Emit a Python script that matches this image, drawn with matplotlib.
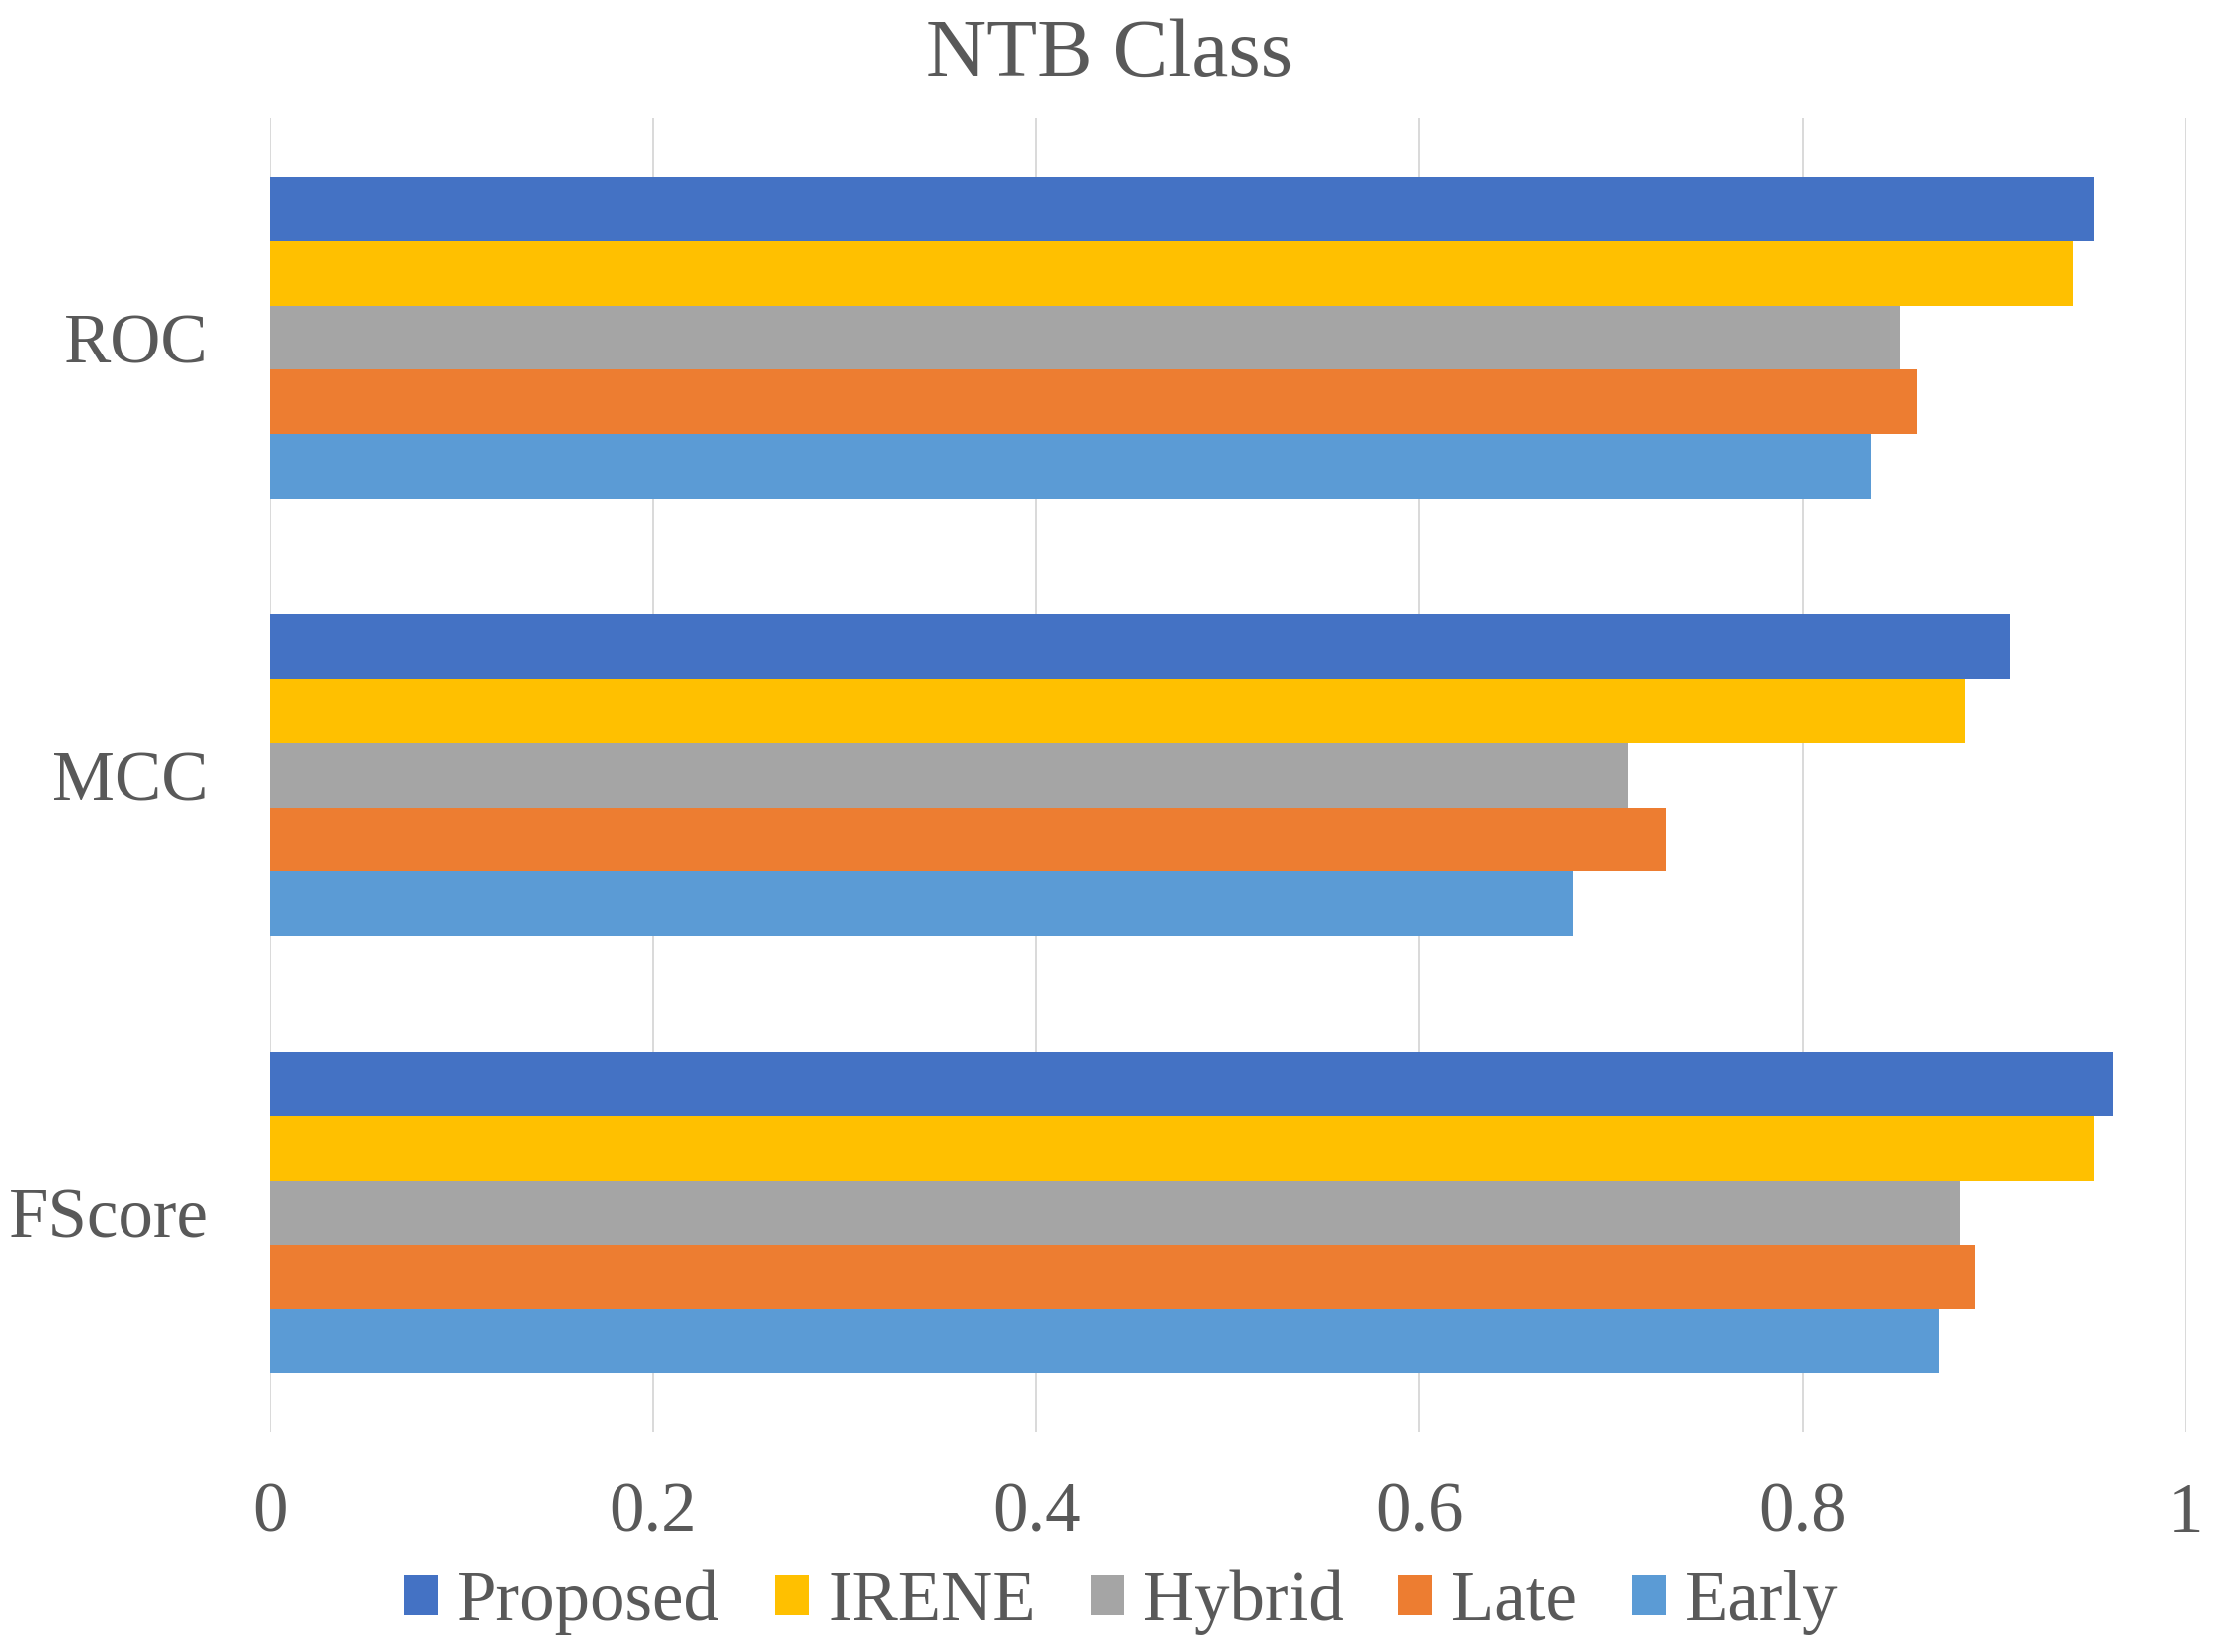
import numpy as np
import matplotlib
matplotlib.use("Agg")
import matplotlib.pyplot as plt

# categories from top to bottom
metrics = ["ROC", "MCC", "FScore"]
methods = ["Proposed", "IRENE", "Hybrid", "Late", "Early"]

proposed = [0.952, 0.908, 0.962]
irene = [0.941, 0.885, 0.952]
hybrid = [0.851, 0.709, 0.882]
late = [0.860, 0.729, 0.890]
early = [0.836, 0.680, 0.871]

x_ticks = [0, 0.2, 0.4, 0.6, 0.8, 1.0]
x_tick_labels = ["0", "0.2", "0.4", "0.6", "0.8", "1"]

colors = ["#4472C4", "#FFC000", "#A5A5A5", "#ED7D31", "#5B9BD5"]
text_color = "#595959"

plt.rcParams['font.family'] = ['Liberation Serif', 'DejaVu Serif']


def main():
    series = [proposed, irene, hybrid, late, early]
    fig = plt.figure(figsize=(22.29, 16.59), dpi=100)
    ax = fig.add_axes([0.1216, 0.1335, 0.863, 0.7945])

    bar_h = 0.147
    y_pos = np.arange(len(metrics))[::-1]  # ROC on top
    for i, (name, vals) in enumerate(zip(methods, series)):
        offset = (2 - i) * bar_h
        ax.barh(y_pos + offset, vals, height=bar_h, color=colors[i],
                label=name, zorder=3)

    ax.set_xlim(0, 1)
    ax.set_ylim(-0.5, len(metrics) - 0.5)
    ax.set_xticks(x_ticks)
    ax.set_xticklabels(x_tick_labels)
    ax.set_yticks(y_pos)
    ax.set_yticklabels(metrics)
    ax.tick_params(axis='x', length=0, pad=36, labelsize=51, colors=text_color)
    ax.tick_params(axis='y', length=0, pad=44, labelsize=51, colors=text_color)
    ax.grid(axis='x', color="#D9D9D9", linewidth=1.4, zorder=0)
    for s in ax.spines.values():
        s.set_visible(False)

    fig.text(0.5, 0.966, "NTB Class", ha='center', va='center',
             fontsize=60, color=text_color)

    leg = fig.legend(loc='center', bbox_to_anchor=(0.505, 0.030), ncol=5,
                     frameon=False, fontsize=51, handlelength=0.48,
                     handleheight=0.48, handletextpad=0.27,
                     columnspacing=0.78, borderaxespad=0, borderpad=0)
    for t in leg.get_texts():
        t.set_color(text_color)

    fig.savefig("out.png", dpi=100)


if __name__ == '__main__':
    main()
